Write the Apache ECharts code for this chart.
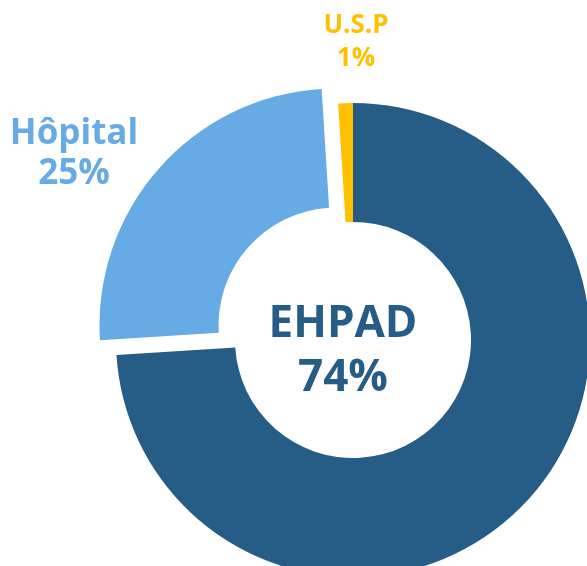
<!DOCTYPE html>
<html>
<head>
<meta charset="utf-8">
<script src="https://cdn.jsdelivr.net/npm/echarts@6/dist/echarts.min.js"></script>
<style>
    html, body { margin: 0; padding: 0; background: #fff; }
    #chart { width: 587px; height: 566px; }
</style>
</head>
<body>
<div id="chart"></div>
<script>
// data
var categories = ['EHPAD', 'Hôpital', 'U.S.P'];
var values = [74, 25, 1];
var colors = ['#255d86', '#66aae6', '#ffc000'];

// where each label sits (x, y of its centre) and its size
var labelPos = [[343, 351], [74, 154], [356, 42]];
var labelSize = [44, 35, 26];
var labelLine = [54, 40, 33];

var slices = [];
var labels = [];
for (let i = 0; i < categories.length; i++) {
    slices.push({
        name: categories[i],
        value: values[i],
        selected: i === 1,
        itemStyle: {color: colors[i]},
        select: {itemStyle: {color: colors[i]}}
    });
    labels.push({
        name: categories[i],
        value: values[i],
        label: {
            color: colors[i],
            fontSize: labelSize[i],
            lineHeight: labelLine[i]
        }
    });
}

var myChart = echarts.init(document.getElementById('chart'), null, {renderer: 'canvas'});

var option = {
    animation: false,
    series: [
        {
            type: 'pie',
            center: [353, 340],
            radius: [118, 237],
            startAngle: 90,
            clockwise: true,
            selectedMode: 'single',
            selectedOffset: 22,
            silent: true,
            emphasis: {disabled: true},
            label: {show: false},
            labelLine: {show: false},
            data: slices
        },
        {
            // same slices, drawn invisibly, only to carry the labels
            type: 'pie',
            center: [353, 340],
            radius: [118, 237],
            startAngle: 90,
            clockwise: true,
            silent: true,
            avoidLabelOverlap: false,
            emphasis: {disabled: true},
            itemStyle: {color: 'rgba(0,0,0,0)'},
            label: {
                show: true,
                position: 'outside',
                formatter: '{b}\n{d}%',
                fontFamily: 'Open Sans',
                fontWeight: 'bold',
                align: 'center',
                overflow: 'none',
                width: 300
            },
            labelLine: {show: false},
            labelLayout: function (params) {
                var p = labelPos[params.dataIndex];
                return {
                    x: p[0],
                    y: p[1],
                    align: 'center',
                    verticalAlign: 'middle',
                    hideOverlap: false
                };
            },
            data: labels
        }
    ]
};
myChart.setOption(option);
</script>
</body>
</html>
